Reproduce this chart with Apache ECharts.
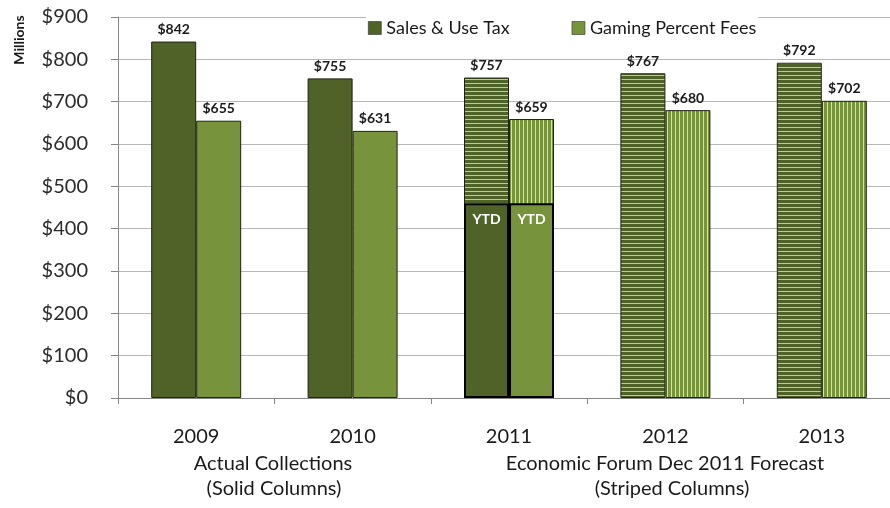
<!DOCTYPE html>
<html>
<head>
<meta charset="utf-8">
<script src="https://cdn.jsdelivr.net/npm/echarts@6/dist/echarts.min.js"></script>
<style>
html,body{margin:0;padding:0;background:#fff;}
#c{width:890px;height:508px;}
</style>
</head>
<body>
<div id="c"></div>
<script>
// ---- data ----
var categories = ['2009', '2010', '2011', '2012', '2013'];
var salesUseTax = [842, 755, 757, 767, 792];
var gamingFees = [655, 631, 659, 680, 702];
var ytdSales = [null, null, 460, null, null];
var ytdGaming = [null, null, 460, null, null];
var forecastFlags = [false, false, true, true, true]; // striped = forecast
var yTicks = [0, 100, 200, 300, 400, 500, 600, 700, 800, 900];

var FONT = 'Lato, "Open Sans", sans-serif';
var DARK = '#4F6228';
var LIGHT = '#77933C';

function hStripe() {
  var c = document.createElement('canvas');
  c.width = 4; c.height = 4;
  var x = c.getContext('2d');
  x.fillStyle = DARK; x.fillRect(0, 0, 4, 4);
  x.fillStyle = '#bcc7a8'; x.fillRect(0, 3, 4, 1);
  return c;
}
function vStripe() {
  var c = document.createElement('canvas');
  c.width = 4; c.height = 4;
  var x = c.getContext('2d');
  x.fillStyle = LIGHT; x.fillRect(0, 0, 4, 4);
  x.fillStyle = '#d3e1b4'; x.fillRect(3, 0, 1, 4);
  return c;
}
var hPat = { image: hStripe(), repeat: 'repeat' };
var vPat = { image: vStripe(), repeat: 'repeat' };

function buildData(values, pattern) {
  return values.map(function (v, i) {
    return forecastFlags[i] ? { value: v, itemStyle: { color: pattern } } : { value: v };
  });
}

var labelMain = {
  show: true, position: 'top', distance: 5,
  formatter: function (p) { return '$' + p.value; },
  fontFamily: FONT, fontWeight: 'bold', fontSize: 14, color: '#1a1a1a'
};
var labelYtd = {
  show: true, position: 'insideTop', distance: 9,
  formatter: 'YTD',
  fontFamily: FONT, fontWeight: 'bold', fontSize: 14, color: '#ffffff'
};

var chart = echarts.init(document.getElementById('c'), null, { renderer: 'canvas' });
chart.setOption({
  animation: false,
  backgroundColor: '#ffffff',
  grid: { left: 118, top: 17, right: -10, bottom: 110, containLabel: false, outerBoundsMode: 'none' },
  legend: {
    data: ['Sales & Use Tax', 'Gaming Percent Fees'],
    left: 366, top: 17,
    itemWidth: 13, itemHeight: 13, itemGap: 62,
    icon: 'rect',
    backgroundColor: '#ffffff',
    padding: [2, 2, 2, 2],
    itemStyle: { borderWidth: 0.6, borderColor: '#333333' },
    textStyle: { fontFamily: FONT, fontSize: 18, color: '#1a1a1a' }
  },
  xAxis: [{
    type: 'category',
    data: categories,
    axisLine: { lineStyle: { color: '#868686', width: 1 } },
    axisTick: { show: true, length: 6, lineStyle: { color: '#868686' } },
    axisLabel: { fontFamily: FONT, fontSize: 20, color: '#1a1a1a', margin: 29 }
  }, {
    type: 'category',
    data: categories,
    show: false
  }],
  yAxis: {
    type: 'value',
    min: 0, max: 900, interval: 100,
    axisLine: { show: true, lineStyle: { color: '#868686' } },
    axisTick: { show: true, length: 7, lineStyle: { color: '#868686' } },
    splitLine: { lineStyle: { color: '#b8b8b8' } },
    axisLabel: {
      fontFamily: FONT, fontSize: 20, color: '#2b2b2b', margin: 30,
      formatter: function (v) { return yTicks.indexOf(v) >= 0 ? '$' + v : ''; }
    }
  },
  series: [{
    name: 'Sales & Use Tax', type: 'bar', xAxisIndex: 0,
    barWidth: 45, barGap: '0%',
    itemStyle: { color: DARK, borderColor: '#1e2410', borderWidth: 1 },
    label: labelMain,
    data: buildData(salesUseTax, hPat)
  }, {
    name: 'Gaming Percent Fees', type: 'bar', xAxisIndex: 0,
    barWidth: 45, barGap: '0%',
    itemStyle: { color: LIGHT, borderColor: '#1e2410', borderWidth: 1 },
    label: labelMain,
    data: buildData(gamingFees, vPat)
  }, {
    name: 'YTD Sales', type: 'bar', xAxisIndex: 1,
    barWidth: 45, barGap: '0%',
    itemStyle: { color: DARK, borderColor: '#000000', borderWidth: 2 },
    label: labelYtd,
    data: ytdSales
  }, {
    name: 'YTD Gaming', type: 'bar', xAxisIndex: 1,
    barWidth: 45, barGap: '0%',
    itemStyle: { color: LIGHT, borderColor: '#000000', borderWidth: 2 },
    label: labelYtd,
    data: ytdGaming
  }],
  graphic: [{
    type: 'text', x: 19, y: 40, rotation: Math.PI / 2,
    style: { text: 'Millions', font: 'bold 14px ' + FONT, fill: '#1a1a1a', textAlign: 'center', textVerticalAlign: 'middle' }
  }, {
    type: 'text', x: 273, y: 464,
    style: { text: 'Actual Collections', font: '20px ' + FONT, fill: '#1a1a1a', textAlign: 'center', textVerticalAlign: 'middle' }
  }, {
    type: 'text', x: 274, y: 489,
    style: { text: '(Solid Columns)', font: '20px ' + FONT, fill: '#1a1a1a', textAlign: 'center', textVerticalAlign: 'middle' }
  }, {
    type: 'text', x: 665, y: 464,
    style: { text: 'Economic Forum Dec 2011 Forecast', font: '20px ' + FONT, fill: '#1a1a1a', textAlign: 'center', textVerticalAlign: 'middle' }
  }, {
    type: 'text', x: 672, y: 489,
    style: { text: '(Striped Columns)', font: '20px ' + FONT, fill: '#1a1a1a', textAlign: 'center', textVerticalAlign: 'middle' }
  }]
});
</script>
</body>
</html>
